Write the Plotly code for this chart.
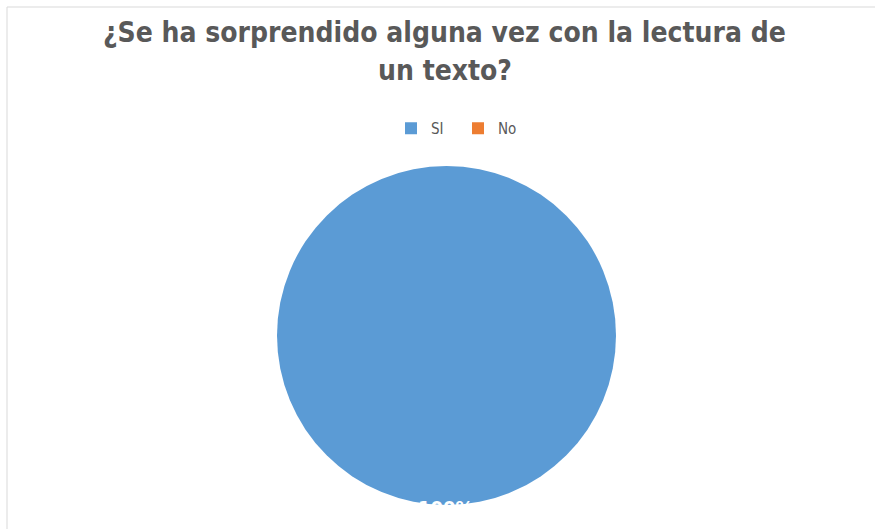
import plotly.graph_objects as go

labels = ["SI", "No"]
values = [100, 0]
colors = ["#5B9BD5", "#ED7D31"]
title_lines = ["¿Se ha sorprendido alguna vez con la lectura de", "un texto?"]

W, H = 875, 529
cx, cy, r = 446.5, 335.5, 169.5

pct = f"{round(100 * values[0] / sum(values))}%"

fig = go.Figure(go.Pie(
    labels=labels,
    values=values,
    marker=dict(colors=colors, line=dict(color="white", width=0)),
    textinfo="none",
    sort=False,
    direction="clockwise",
    rotation=0,
    hoverinfo="label+percent",
    domain=dict(x=[(cx - r) / W, (cx + r) / W], y=[1 - (cy + r) / H, 1 - (cy - r) / H]),
))

FONT = "Liberation Sans Narrow, DejaVu Sans Condensed, Arial Narrow, sans-serif"
TITLE_FONT = dict(family=FONT, size=28, color="#595959", weight="bold")

title_y = [32, 71]
annotations = [
    dict(text=line, x=0.508, y=1 - yy / H, xref="paper", yref="paper",
         xanchor="center", yanchor="middle", showarrow=False, font=TITLE_FONT)
    for line, yy in zip(title_lines, title_y)
]
annotations.append(dict(
    text=pct, x=cx / W, y=1 - 494 / H, xref="paper", yref="paper",
    xanchor="center", yanchor="top", showarrow=False,
    font=dict(family=FONT, size=20, color="white", weight="bold"),
))

fig.update_layout(
    width=W, height=H,
    margin=dict(l=0, r=0, t=0, b=0),
    paper_bgcolor="white",
    plot_bgcolor="white",
    showlegend=True,
    legend=dict(
        orientation="h",
        x=(405 - 14) / W, xanchor="left",
        y=1 - 112 / H, yanchor="top",
        font=dict(family=FONT, size=15, color="#595959"),
        itemwidth=30,
        entrywidth=22,
        traceorder="normal",
    ),
    annotations=annotations,
    shapes=[
        dict(type="line", xref="paper", yref="paper", x0=7 / W, x1=1, y0=1 - 7 / H, y1=1 - 7 / H,
             line=dict(color="#D9D9D9", width=1)),
        dict(type="line", xref="paper", yref="paper", x0=7 / W, x1=7 / W, y0=0, y1=1 - 7 / H,
             line=dict(color="#D9D9D9", width=1)),
    ],
)

fig.write_html("out.html", config={"displayModeBar": False},
               post_script="document.body.style.margin='0';")
